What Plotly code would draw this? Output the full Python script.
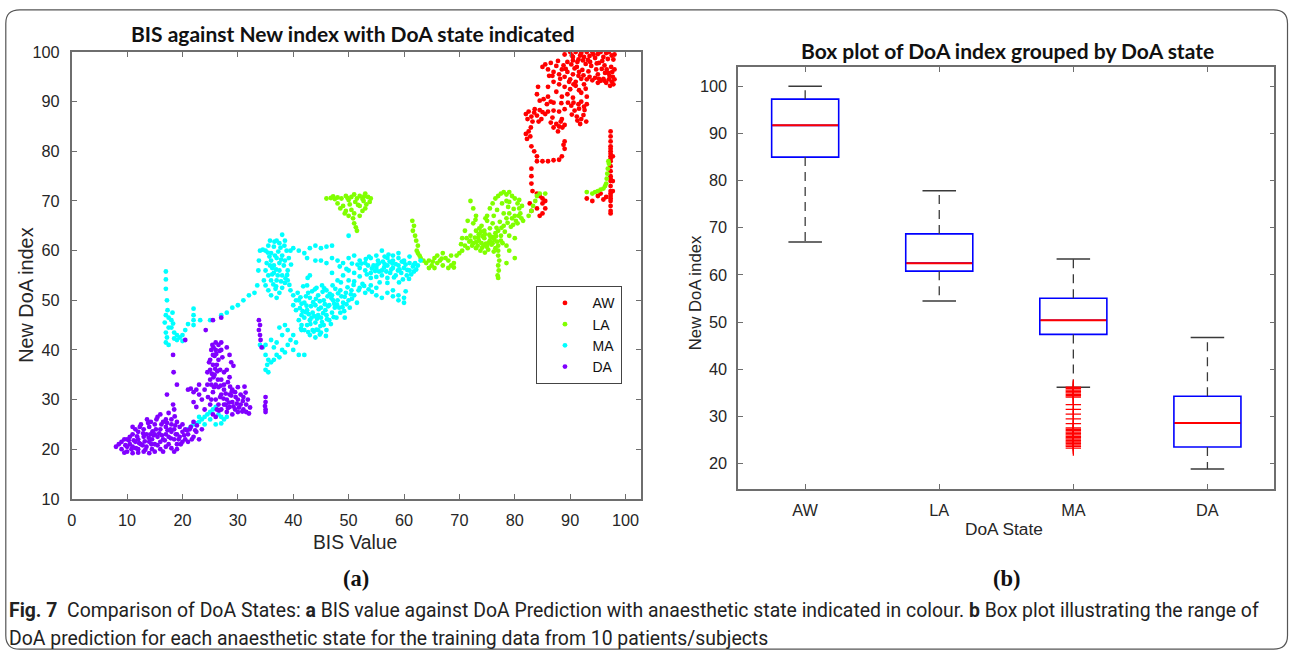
import plotly.graph_objects as go

W, H = 1289, 659

# ---------------- panel (a): BIS value vs new DoA index ----------------
aw_pts = [
    (89,99.5),(90,100),(90.5,99),(91,100),(91.5,98.5),(92,99.8),(92.5,99),(93,100),(93.5,99.2),(94,100),
    (94.5,98.8),(95,99.6),(95.5,100),(96,99),(96.5,99.8),(97,100),(97.5,99.3),(97.8,98.5),(89.5,98),(90.2,97.5),
    (91.2,97),(92.8,97.6),(93.8,97.2),(95.2,97.8),(96.2,97.3),(97.4,97),(97.6,96),(97.7,95),(97.5,94),(97,94.5),
    (96.5,93.8),(96,94.6),(95.5,94.2),(97.8,93.5),(97.2,93.2),
    (85,97),(85.5,97.5),(86,96.5),(86.5,97.8),(87,96),(87.5,97.2),(88,95.5),(88.5,96.5),(89,95),(89.5,96),
    (90,94.5),(90.5,95.5),(91,94),(91.5,95.2),(92,94.6),(92.5,93.5),(93,94.5),(93.5,95),(94,94.3),(94.5,94.8),
    (95,93.8),(89,93),(90,92.5),(91,93.2),(88,93.5),(87.5,92),(86,91),(85.2,90.5),(86.5,90),(87,89.8),
    (85.8,89.5),(84.5,90.2),(84,91.5),(84.2,93),(88.5,91),(89.5,91.5),(90.5,90.8),(91.5,89.5),(92,90),(92.5,89),
    (93,89.5),(90.8,88.2),(91.2,87),(92,86.5),(92.4,87.3),(91.8,85.5),(92.6,88.3),(90.2,89.2),(89,88.5),(88,88),
    (87,88.2),(86,88),(85,87.9),(88.5,86.5),(87.5,85.5),(88,85),(87,84.8),(86.5,85.8),(87.8,84),(88.3,86),
    (89,85.3),(93,91),(92,91.8),(87,94),(86,93),
    (90.5,98.3),(91.8,99.3),(93.2,98.4),(94.2,99.5),(95.8,98.2),(96.8,98.6),(92.2,96.4),(93.3,96.1),(94.7,96.5),(96.9,95.8),
    (89.8,94),(90.8,96.7),(88.8,97.3),(87.8,98.2),(86.2,95.2),(91.6,92.3),(92.8,92.6),(90.3,87.4),(91.6,88.6),(92.9,86),
    (86.8,86.8),(88.6,84.8),(83.6,88.5),(82.9,84.8),(84.3,86),(95,95.5),(96.3,95.8),(98,94.5),(98,96.5),(98,99.5),
    (90.3,99.3),(91.3,98),(92.3,98.3),(93.6,98),(94.8,97.7),(95.7,96.6),(96.6,96.5),(97.1,95.2),(96.2,94.2),(95.2,94.6),
    (89.2,96.6),(88.2,94.6),(86.8,95.2),(90.6,93.5),(91.6,96),(92.4,95.3),(89.6,89.8),(90.6,89.8),(91.3,86.2),(88.4,89.7),
    (82,87.5),(82.5,88),(83,87),(83.5,87.8),(84,87.2),(84.5,88.3),(82.3,86.5),(83.2,86),(82.5,84),(82,83.5),
    (82.8,83),(82.2,82.5),(84.8,86.5),(85.5,87.5),
    (83,81),(83.5,80),(84,79),(84,78),(85,78),(86,78),(87,78.2),(88,78.3),(88.5,79),(89,80.5),(89,82),(88.8,81.3),
    (83,76.5),(83,75),(83,73.5),(83.2,72),(84,71.5),(84.5,71),(85,70.5),(85.5,70),(85,69.5),(85.5,68.5),
    (85,67.5),(84.5,67),(83,68),(82.7,69.5),(84,68.5),
    (97.3,84),(97.3,83),(97.3,82),(97.3,81),(97.3,80.5),(97.3,80),(97.3,79.5),(97.3,79),(97.3,78.5),(97.3,78),
    (97.3,77),(97.3,76),(97.3,75),(97.3,74.5),(97.3,74),(97.3,73),(97.3,72),(97.3,71.5),(97.3,71),(97.3,70.5),
    (97.3,70),(97.3,69),(97.3,68),(97.3,67.5),(97.7,79),(97.7,74),(97.7,72),
    (93,70.5),(94,70),(95,71),(95.5,71.5),(96,70.3),(96.5,70.8),
]
la_pts = [
    (46,70.5),(46.8,70.6),(47.5,70.4),(48,70.7),(48.7,70.5),(49.5,71),(50,70.2),(50.5,70.8),(51,71.3),(51.5,70.5),
    (52,71),(52.5,70.4),(53,71.5),(53.5,70.8),(54,70.5),(53.8,69.8),(53.2,69.3),(52.7,70),(48,69.5),(49,69),
    (50.2,69.3),(51.2,69.8),(52,69),(53,68.5),(52.5,68),(50.5,68.2),(49.5,68),(48.5,68.5),(51,67.5),(50.8,66.5),
    (51,65.5),(51.3,64.7),(51.5,64),(50,67),(49.3,67.5),(52,67),(49.8,70.6),(51.7,69.2),(52.8,70.9),(47.2,70.9),
    (61.5,66),(61.8,65),(61.6,64),(62,63),(62.2,62),(62.5,61),(62.3,60),(62.5,59.5),(62.8,59),(63,58.5),
    (63.5,58),(64,57.5),(64.5,58),(65,57),(65.5,56.5),(66,57.5),(66.5,58),(67,57),(67.5,58.5),(68,58),
    (68.5,57),(69,57.5),(69.5,59),(70,59.5),(68.5,59),(67,59.5),(66,59),(65.5,58.5),(64.5,56.5),(68,56.5),(69,56.6),
    (66.8,58.4),(65.2,57.8),(70.3,61.3),
    (70.5,60),(71,61),(71.5,60.5),(72,62),(72.5,61.5),(73,60.5),(73.5,62),(74,61.5),(74.5,62.5),(75,61),
    (75.5,62),(76,61.5),(76.5,60.5),(77,61),(77.5,62),(72,63),(73,64),(73.5,63.3),(74,65),(74.5,64),
    (75,66),(75.5,64.5),(76,65.5),(76.5,63.5),(77,64),(77.5,63),(78,65),(72.5,65.5),(73,67),(72.5,68.5),
    (72,70),(71.5,66),(71,64),(70.5,62.5),(73.8,60),(75.2,60.2),(76.2,59.8),(74.6,59.6),(76,62.7),(73,61.7),
    (74.8,61.4),(75.8,61.2),(71.8,61.8),(72.8,62.6),(73.3,61),(74.2,62.9),(74.9,60.8),(75.4,63.2),(76.3,62.2),(76.8,61.8),
    (77.8,61.5),(78.5,61),(71.3,62.5),(73.6,64.5),(74.7,66.5),(76.2,67),(77.3,65.8),(78.2,63.8),(79.3,64.8),
    (72.3,61),(73.4,62.6),(74.4,61.1),(75.6,62.8),(76.6,62.9),(75.3,61.6),(74.1,60.6),(73.9,63.8),(76.7,64.6),(77.6,64.6),
    (78.7,65.6),(79.7,65.2),(80.7,67),(74.6,63.3),(72.9,66.2),
    (77,60),(77,59),(77.2,58),(77,57),(77.1,56),(76.9,55),(77,54.5),
    (75,67),(75.5,68.5),(76,69.5),(76.5,70.5),(77,71),(77.5,71.5),(78,71.8),(78.5,71.3),(79,71.8),(79.5,71),
    (80,70.5),(80.5,69.5),(80.8,68.5),(81,67.5),(81.2,66.5),(81.5,66),(80,67),(79.5,66.5),(79,67.5),(78.8,68.8),
    (79,69.8),(80.2,66),(80.5,65.5),(78.5,66.5),(78,67.5),(78.5,70),(79.8,68.4),(80.8,70.2),(81.3,69),(77.7,69.5),(76.8,68.2),
    (79,63),(80,62.5),(80,58.5),(78.5,57.5),(79,60),
    (82.5,67),(83,68),(83.3,69),(83.7,70),(84,71),(84.5,71.5),(85.5,71.5),
    (93,71.8),(94,71.5),(94.5,71.8),(95,72),(95.5,72.3),(96,72.5),(96.3,73),(96.5,73.5),(96.6,74.5),(96.7,75.5),
    (96.8,76.5),(97,77.5),(96.9,78),
]
ma_pts = [
    (17,55.8),(17,54.2),(17,52.3),(17.2,50),(17.3,48),(17,47),(17.5,46.5),(16.8,45.5),(17.5,44.5),(17,43.5),
    (17.2,42.5),(17,41.5),(17.5,41),(18,46),(18,44.5),(18.5,43.5),(18.5,42.3),(19,43),(19,42),(19.5,42.5),
    (20,41.8),(20,43),(18.2,47.5),(18.3,45.3),
    (22,48.3),(22,47),(22,46),(22,45),(21,45.2),(23.2,46),(20.5,44),
    (25,46),(27,47),(28,47.5),(29,48.5),(30,49),(31,50),(32,51),(33,51.5),(33.5,53),(33.7,56),(33.8,58),(34,60),(34.5,60.2),
    (35,60),(35.5,61),(36,59.5),(36.5,60.8),(37,62),(37.5,61.5),(38,63.2),(38.5,62),(36,58),(36.5,57),
    (37,58.5),(37.5,57.5),(38,59),(38.5,58),(35,56),(35.5,55),(36,54),(36.5,55.5),(37,54),(37.5,56),
    (38,55),(38.5,53.5),(39,56),(35,53),(35.5,52),(36,51),(36.8,52.3),(37.5,51.5),(38,52.5),(39,54),
    (39.5,52),(34.7,54),(35.2,57.5),(38.8,60),(39.2,58.5),(36.2,56.5),(37.3,59.8),(35.8,62),(37,50.5),(40,51),(40.5,50),
    (36.4,53.2),(37.8,53.8),(36.9,56.2),(38.3,57),(35.7,58.8),(37.7,60.6),(36.6,61.8),(38.9,55.1),(39.6,57.2),
    (36.2,55.2),(37.2,55),(36.7,59),(37.8,58.2),(38.4,61),(35.4,59.6),(36.9,52.8),(38.6,54.4),(39.3,53.1),(35.8,57),
    (40,60.5),(41,60),(42,59.5),(43,60.5),(44,61),(45,60.5),(46,60.8),(47,61),(39.5,60),(42.5,58.5),
    (44,58),(43,55),(42.5,53),(42.6,54.5),
    (40,49),(40.5,48),(41,50),(41.5,47),(42,49.5),(42.5,48),(43,50.5),(43.5,47.5),(44,49),(44.5,51),
    (45,48.5),(45.5,50),(46,52),(46.5,49),(47,51),(47.5,48.5),(48,50),(48.5,52),(49,49.5),(49.5,51.5),
    (50,50),(41,46),(41.5,45),(42,46.5),(42.5,45),(43,46),(43.5,44),(44,45.5),(44.5,44),(45,46.5),
    (45.5,45),(46,47),(46.5,46),(47,47.5),(42,44),(43,43),(44,42.5),(45,43.5),(46,44),(44.5,47),
    (43.2,48.8),(45.8,48),(47.8,46.5),(48.5,47.5),(50.5,52),(51,51),(52,52.5),(53,51.5),(54,53),(55,52.5),
    (51.5,49.5),(40.8,51.5),(41.8,52.8),(44.2,52.5),(45.2,53),(43.8,46.8),(42.8,47.2),(46.2,50.8),(47.2,50),(48.3,48.5),
    (49.2,47.8),(44.8,49.8),(41.2,48.4),
    (41.5,49.3),(42.3,50.8),(43.4,51.8),(44.1,50.3),(45.3,51.7),(46.6,51.3),(47.6,52.3),(48.7,50.8),(49.6,49.2),(50.4,51.2),
    (43.1,45.2),(44.3,46.3),(45.4,47.4),(46.3,48.8),(47.4,49.3),(43.7,43.7),(44.9,44.8),(42.4,48.9),(41.7,47.8),(46.8,45.2),
    (48.1,51.4),(49.8,52.6),(52.5,53.3),(53.6,52.2),(55.6,53.6),(57,53.5),
    (41.3,50.6),(42.7,51.5),(43.6,49.6),(44.6,48.2),(45.7,49.2),(46.9,50.4),(47.9,49.1),(48.9,48.6),(49.3,50.7),(50.6,50.3),
    (42.2,47.6),(43.3,46.5),(44.2,44.1),(45.2,45.6),(46.1,46.2),(47.3,46.6),(42.7,43.6),(41.4,44.3),(44.8,43.1),(45.9,42.8),
    (43.9,52.2),(45.6,52.4),(47.1,53),(48.6,53.6),(50.9,53.1),(51.8,52),(52.8,52.9),(54.2,51.7),(49.3,46.5),(50.2,48.5),
    (45,58),(46,57.5),(47,58.5),(48,58),(49,57.5),(50,58.5),(51,59),(52,58),(53,57.5),(54,58.5),
    (55,59),(56,60),(57,58.5),(58,59),(59,58.5),(60,58),(61,57.5),(62,57.5),(50,56),(51,55.5),
    (52,56.5),(53,56),(54,55.5),(55,56.5),(56,56),(57,57),(58,56.5),(59,57),(60,56.5),(61,56),
    (53.5,57),(54.5,57),(55.5,57.5),(56.5,57.3),(57.5,55.5),(58.5,55),(59.5,55.5),(60.5,55),(61.3,55.2),(56,55),
    (55,54.7),(57,54.5),(54,54.5),(52,54.8),(51,53.8),(49,55),(50,54),(48,54),(47,55.5),(58,58),
    (60,57.7),(62.5,57),(63,58),(59,59.5),(61,58.8),(56.5,58.8),(55.5,55.8),(58.5,57.3),
    (53.3,55.2),(54.8,55.9),(56.4,56.6),(57.7,56.2),(59.2,56.2),(60.3,57.2),(61.6,56.8),(58.2,54.6),(59.8,54.2),(61.8,55.8),
    (57.4,57.8),(55.3,58),(53.7,58.8),(52.3,57.4),
    (54.2,56.4),(55.2,57.2),(56.8,55.8),(57.9,57.4),(58.9,56),(59.6,57.8),(60.6,56.1),(61.8,57.2),(56.2,57.8),(57.2,59.2),
    (53.1,58.3),(51.6,57.2),(50.6,57.4),(49.6,56.3),(48.4,56.8),(60.9,54.3),(62.2,56.2),(59.1,53.6),
    (55,51),(56,50.5),(57,51.5),(58,52),(59,51),(60,50.5),(60,49.5),(60.3,51.8),(59,50),(58,50.8),
    (34,41),(35,41),(34.5,40.5),(35,39),(35.5,38),(35.3,37),(35,36),(35.5,35.5),(36,37.5),(36.5,38),
    (37,39),(37.5,38.5),(38,40),(38.5,39.5),(39,41),(39.5,42),(40,40),(40.5,41.5),(41,39),(42,39),
    (37,41.5),(38,43),(36.5,40.5),(39,44),(40,43),(41.5,44),(38.5,45),(37.5,44.5),(36,42),
    (21,24),(21.5,24.5),(22,25),(22.5,25.2),(23,25.5),(23.5,26),(24,26.5),(24.5,27),(25,27.5),(25.5,28),
    (26,28.5),(26.5,27),(27,26.5),(27.5,26),(28,26.5),(26,25),(27,25.2),(25,26),(24,25),(23,26.5),
    (50,63),
]
da_pts = [
    (8,20.5),(8.5,21),(9,20),(9,21.5),(9.5,22),(10,20.5),(10,19.5),(10.5,21),(10.5,22.5),(11,19.2),
    (11,20.5),(11,23),(11.5,21.5),(11.5,24),(12,20),(12,22),(12,23.5),(12.5,21),(12.5,25),(13,19.5),
    (13,22.5),(13,24),(13.5,20.5),(13.5,23),(14,19.2),(14,21.5),(14,24.5),(14.5,22),(14.5,20),(15,19.5),
    (15,21),(15,23),(15,25),(15.5,22.5),(15.5,26.5),(16,20),(16,21.5),(16,24),(16,27),(16.5,22),
    (16.5,25.5),(17,20.5),(17,23),(17,24.5),(17,26),(17.5,21),(17.5,22.5),(17.5,27.3),(18,23.5),(18,25),
    (18,26),(18.5,22),(18.5,24),(18.5,19.5),(19,21),(19,23),(19,25.5),(19,20),(19.5,22.5),(19.5,24.5),
    (20,21.5),(20,23.5),(20,25),(20.5,22),(20.5,24),(21,23),(21,21.5),(21.5,24.5),(22,22.5),(22,25.5),
    (22.5,23.5),(23,22),(23.5,24),(10,22),(11,24.5),(12,19.3),(13.8,25.3),(16.5,19.5),(18,20.2),(15.2,24),
    (14.2,23),(9.5,19.3),(18.6,26.6),
    (10.8,20),(11.8,22.6),(12.8,20.8),(13.2,21.6),(14.6,23.6),(15.8,23.2),(16.2,25),(17.2,25.3),(17.8,24),(18.8,23),
    (19.7,21),(20.8,23.8),(21.7,22),(22.6,24.8),(16.8,21.8),(14.4,21),(12.3,24.5),(13.6,26),
    (9.7,20.8),(10.3,21.8),(11.2,21.8),(12.2,21.2),(12.9,23.2),(13.9,22.3),(14.8,22.8),(15.5,20.8),(16.3,22.8),(17.3,23.8),
    (17.9,22.2),(18.7,24.8),(19.3,22),(20.3,22.8),(21.3,24),(22.3,23.8),(14.3,25.5),(15.3,26),(11.6,20.2),(13.3,19.9),
    (24,32),(24.5,33),(25,34),(25,36),(25,38),(25.5,37),(25.5,39),(26,40),(26,41.5),(26.5,41),
    (27,40),(27,41.5),(24.5,35.5),(24.8,37.5),(25.2,40),(25.8,35),(26,33),(26.5,38),(26.8,36),(27,34),
    (27.2,38.5),(25.5,31.5),(26,30),(26.5,29),(27,28),(27,31),(27.5,33),(25,29),(24,28),(25.5,27),
    (26,26.5),(26.5,32.5),(25.8,38.8),(26.3,35.7),(24.6,30.5),(28,36),(28.5,34.5),(28.5,39),(28.8,37.5),(29.2,36.8),(28,40.5),
    (25.2,33),(25.6,34.5),(26.2,37),(26.7,39.8),(25.4,41),(26.8,30.5),(27.8,29),(28.8,30.8),(29.8,29.2),(30.8,27.6),
    (31.8,30),(28.6,32.6),(26.2,28),(27.5,35.5),
    (25.3,35.2),(25.9,36.2),(26.4,34),(25.7,32.5),(26.9,32.8),(25.2,30),(26.6,27.8),(27.4,30.2),(26.1,39.2),(25.6,40.5),
    (27.5,29),(28,30),(28,27.5),(28.5,31),(28.5,28.5),(29,29.5),(29,27),(29.5,31.5),(29.5,28),(30,30),
    (30,27.5),(30.5,31),(30.5,29),(31,28),(31,30.5),(31.5,27.5),(31.5,29),(32,27.2),(29,32),(30,32.5),
    (27.5,32),(28.2,33.5),(31.2,32.6),
    (28.2,28.3),(29.2,28.6),(30.2,28.4),(30.9,29.7),(29.6,30.5),(28.9,31.6),(31.4,31.4),(32.2,28.4),(27.8,31.2),(28.4,29.4),
    (21,32),(21.5,32.2),(22,31.5),(22.5,32),(23,33),(23,31),(23.5,30),(22,29.5),(22.5,28.5),
    (18.3,39),(18.4,35.5),(19,33),(17.2,31),(18.3,29),(18.5,28),(20.5,42),(27,46.5),(25.5,46),(24.2,44),
    (33.8,46),(34,45),(33.8,44),(34,43),(34.1,42),(34.3,40.5),(35,30.5),(35,29.5),(34.9,28.7),(35,28),(35,27.5),
]
scatter_groups = ["AW", "LA", "MA", "DA"]
scatter_colors = ["#ff0000", "#80ff00", "#00ffff", "#8000ff"]

# ---------------- panel (b): box plot statistics ----------------
states = ["AW", "LA", "MA", "DA"]
q1 = [84.97, 60.8, 47.4, 23.55]
med = [91.7, 62.5, 50.4, 28.6]
q3 = [97.25, 68.7, 55.07, 34.3]
lo_whisk = [67.0, 54.5, 36.2, 18.9]
hi_whisk = [100.0, 77.86, 63.4, 46.75]
ma_outliers = [36.2, 35.9, 35.6, 35.3, 35.0, 34.7, 34.4, 34.1, 32.5, 31.5, 30.5, 29.5, 28.5,
               27.6, 27.3, 27.0, 26.7, 26.4, 26.1, 25.8, 25.5, 25.2, 24.9, 24.6, 24.3, 24.0, 23.7, 23.3]

x_ticks_a = list(range(0, 101, 10))
y_ticks_a = list(range(10, 101, 10))
y_ticks_b = list(range(20, 101, 10))

# the page is photographed with the default 8px page margin and scaled to fit;
# positions below are given as target pixels in the final picture.
SX, SY, OFF = W / (W + 8), H / (H + 16), 8


def px(p):
    return (p / SX - OFF) / W


def py(p):
    return 1 - (p / SY - OFF) / H


fig = go.Figure()

for name, col, pts in zip(scatter_groups, scatter_colors, [aw_pts, la_pts, ma_pts, da_pts]):
    fig.add_trace(go.Scatter(
        x=[p[0] for p in pts], y=[p[1] for p in pts], mode="markers", name=name,
        marker=dict(color=col, size=4.8, line=dict(width=0)),
        xaxis="x", yaxis="y"))

pos = [i + 1 for i in range(len(states))]
for i, p in enumerate(pos):
    fig.add_trace(go.Scatter(
        x=[p, p, None, p, p], y=[q3[i], hi_whisk[i], None, q1[i], lo_whisk[i]],
        mode="lines", line=dict(color="#3a3a3a", width=1.3, dash="9px,6px"),
        showlegend=False, xaxis="x2", yaxis="y2", hoverinfo="skip"))
    fig.add_trace(go.Scatter(
        x=[p - 0.125, p + 0.125, None, p - 0.125, p + 0.125],
        y=[hi_whisk[i], hi_whisk[i], None, lo_whisk[i], lo_whisk[i]],
        mode="lines", line=dict(color="#3a3a3a", width=1.5),
        showlegend=False, xaxis="x2", yaxis="y2", hoverinfo="skip"))
    fig.add_trace(go.Box(
        x=[p], q1=[q1[i]], median=[med[i]], q3=[q3[i]], lowerfence=[q1[i]], upperfence=[q3[i]],
        width=0.5, line=dict(color="#0000ff", width=1.6), fillcolor="rgba(0,0,0,0)",
        boxpoints=False, showlegend=False, xaxis="x2", yaxis="y2", hoverinfo="skip"))
    fig.add_trace(go.Scatter(
        x=[p - 0.245, p + 0.245], y=[med[i], med[i]], mode="lines",
        line=dict(color="#ff0000", width=2.0),
        showlegend=False, xaxis="x2", yaxis="y2", hoverinfo="skip"))

fig.add_trace(go.Scatter(
    x=[pos[2]] * len(ma_outliers), y=ma_outliers, mode="markers",
    marker=dict(symbol="cross-thin", size=11, line=dict(color="#ff0000", width=1.3)),
    showlegend=False, xaxis="x2", yaxis="y2", hoverinfo="skip"))

axis_common = dict(showgrid=False, zeroline=False, showline=True, linecolor="#6e6e6e", linewidth=1.6,
                   mirror="ticks", ticks="inside", ticklen=5, tickwidth=1, tickcolor="#6e6e6e",
                   tickfont=dict(family="Liberation Sans, Arial, sans-serif", size=16.3, color="#262626"))

fig.update_layout(
    width=W, height=H, margin=dict(l=0, r=0, t=0, b=0),
    paper_bgcolor="white", plot_bgcolor="white",
    xaxis=dict(domain=[px(74.5), px(642)], range=[0, 102.7], tickvals=x_ticks_a,
               ticklabelstandoff=6, anchor="y", **axis_common),
    yaxis=dict(domain=[py(499.5), py(51)], range=[10, 100], tickvals=y_ticks_a,
               ticklabelstandoff=7, anchor="x", **axis_common),
    xaxis2=dict(domain=[px(739.4), px(1274.5)], range=[0.5, 4.5], tickvals=pos, ticktext=states,
                ticklabelstandoff=6, anchor="y2", **axis_common),
    yaxis2=dict(domain=[py(489.1), py(66.2)], range=[14.74, 104.03], tickvals=y_ticks_b,
                ticklabelstandoff=6, anchor="x2", **axis_common),
    legend=dict(x=px(538), y=py(286), xanchor="left", yanchor="top",
                bordercolor="#444", borderwidth=1.2, bgcolor="white",
                font=dict(family="Liberation Sans, Arial, sans-serif", size=14, color="#111"),
                itemwidth=45, entrywidth=50),
    showlegend=True,
)

title_font = dict(family="Lato, Carlito, Calibri, sans-serif", size=21, color="#111")
label_font = dict(family="Liberation Sans, Arial, sans-serif", color="#262626")
ann = [
    dict(text="<b>BIS against New index with DoA state indicated</b>", x=px(355), y=py(32), font=title_font),
    dict(text="<b>Box plot of DoA index grouped by DoA state</b>", x=px(1008), y=py(49), font=title_font),
    dict(text="BIS Value", x=px(357), y=py(543), font=dict(size=19.3, **label_font)),
    dict(text="New DoA index", x=px(29.5), y=py(295), textangle=-90, font=dict(size=19.8, **label_font)),
    dict(text="DoA State", x=px(1005), y=py(530), font=dict(size=17.3, **label_font)),
    dict(text="New DoA index", x=px(696.5), y=py(293), textangle=-90, font=dict(size=16.8, **label_font)),
    dict(text="<b>(a)</b>", x=px(358), y=py(579), font=dict(family="Liberation Serif, Times New Roman, serif", size=22.5, color="#111")),
    dict(text="<b>(b)</b>", x=px(1008), y=py(579), font=dict(family="Liberation Serif, Times New Roman, serif", size=22.5, color="#111")),
]
for a in ann:
    fig.add_annotation(xref="paper", yref="paper", showarrow=False, xanchor="center", yanchor="middle", **a)

cap_font = dict(family="Liberation Sans Narrow, Arial Narrow, Roboto, sans-serif", size=19.4, color="#222")
fig.add_annotation(xref="paper", yref="paper", x=px(10), y=py(612), xanchor="left", yanchor="middle",
                   showarrow=False, align="left", font=cap_font,
                   text="<b>Fig. 7</b>  Comparison of DoA States: <b>a</b> BIS value against DoA Prediction with anaesthetic state indicated in colour. <b>b</b> Box plot illustrating the range of")
fig.add_annotation(xref="paper", yref="paper", x=px(10), y=py(640), xanchor="left", yanchor="middle",
                   showarrow=False, align="left", font=cap_font,
                   text="DoA prediction for each anaesthetic state for the training data from 10 patients/subjects")

# rounded figure frame (in paper units of the figure itself)
L, T, R, B, r = 0.8, 0.8, 1287.5, 658.2, 14
fx = lambda v: v / W
fy = lambda v: 1 - v / H
path = (f"M {fx(L + r)},{fy(T)} L {fx(R - r)},{fy(T)} Q {fx(R)},{fy(T)} {fx(R)},{fy(T + r)} "
        f"L {fx(R)},{fy(B - r)} Q {fx(R)},{fy(B)} {fx(R - r)},{fy(B)} "
        f"L {fx(L + r)},{fy(B)} Q {fx(L)},{fy(B)} {fx(L)},{fy(B - r)} "
        f"L {fx(L)},{fy(T + r)} Q {fx(L)},{fy(T)} {fx(L + r)},{fy(T)} Z")
fig.add_shape(type="path", path=path, xref="paper", yref="paper", line=dict(color="#555", width=1.2))

fig.write_html("out.html")
